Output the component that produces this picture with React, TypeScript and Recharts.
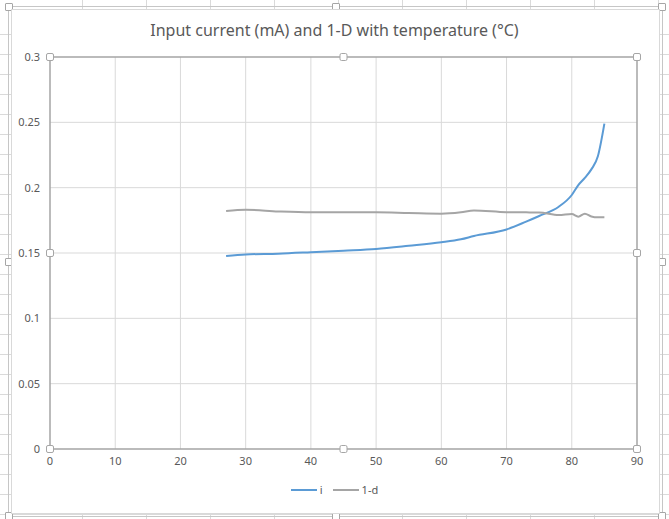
import { LineChart, Line, XAxis, YAxis, CartesianGrid, Legend, ReferenceArea, ReferenceDot } from 'recharts'

// temperature (°C)
const temps = [27, 30, 35, 40, 45, 50, 55, 60, 63, 65, 70, 73, 75, 78, 80, 81, 82, 83, 84, 85]
// input current i
const current = [
  0.1477, 0.1489, 0.1495, 0.1506, 0.1518, 0.1531, 0.1555, 0.1582, 0.1605, 0.163, 0.168, 0.174, 0.1783,
  0.1854, 0.1944, 0.202, 0.2075, 0.214, 0.224, 0.249,
]
// 1-d
const oneMinusD = [
  0.1821, 0.1831, 0.1818, 0.1811, 0.1811, 0.1811, 0.1806, 0.1801, 0.1812, 0.1826, 0.1812, 0.1811, 0.181,
  0.179, 0.1798, 0.1778, 0.1801, 0.178, 0.1773, 0.1773,
]

const xTicks = [0, 10, 20, 30, 40, 50, 60, 70, 80, 90]
const yTicks = [0, 0.05, 0.1, 0.15, 0.2, 0.25, 0.3]
const handleX = [0, 45, 90]
const handleY = [0, 0.15, 0.3]

const data = temps.map((t, k) => ({ t, i: current[k], d: oneMinusD[k] }))

const FONT = '"Noto Sans", "Open Sans", sans-serif'
const TEXT = '#595959'

const Handle = (props: any) => (
  <rect x={props.cx - 3.5} y={props.cy - 3.5} width={7} height={7} rx={1.5} fill="#fff" stroke="#a6a6a6" strokeWidth={1} />
)

const LegendContent = () => (
  <div style={{ display: 'flex', justifyContent: 'center', alignItems: 'center', fontSize: 11, color: TEXT }}>
    <span style={{ width: 26, height: 2, background: '#5b9bd5', marginRight: 3 }} />
    <span style={{ marginRight: 10 }}>i</span>
    <span style={{ width: 26, height: 2, background: '#a5a5a5', marginRight: 3 }} />
    <span>1-d</span>
  </div>
)

const frameHandles = [
  [0, 0], [50, 0], [100, 0], [0, 50], [100, 50], [0, 100], [50, 100], [100, 100],
]

export default function App() {
  return (
    <div
      style={{
        position: 'absolute',
        left: 0,
        top: 0,
        width: 669,
        height: 519,
        overflow: 'hidden',
        background: '#fff',
        backgroundImage:
          'repeating-linear-gradient(to right, transparent 0 63px, #dadada 63px 64px), repeating-linear-gradient(to bottom, transparent 0 19px, #dadada 19px 20px)',
        backgroundPosition: '19px 0, 0 15px',
        fontFamily: FONT,
      }}
    >
      {/* selection frame */}
      <div style={{ position: 'absolute', left: 8, top: 6, width: 653, height: 509, border: '1px solid #c6c6c6' }}>
        {frameHandles.map(([l, t], k) => (
          <div
            key={k}
            style={{
              position: 'absolute',
              left: `calc(${l}% - 4px)`,
              top: `calc(${t}% - 4px)`,
              width: 6,
              height: 6,
              borderRadius: 1,
              border: '1px solid #a6a6a6',
              background: '#fff',
            }}
          />
        ))}
      </div>
      {/* chart area */}
      <div style={{ position: 'absolute', left: 11, top: 9, width: 647, height: 503, border: '1px solid #d9d9d9', background: '#fff' }} />
      <div style={{ position: 'absolute', left: 0, top: 19, width: 669, textAlign: 'center', fontSize: 16, color: TEXT }}>
        Input current (mA) and 1-D with temperature (°C)
      </div>
      <div style={{ position: 'absolute', left: 0, top: 0 }}>
        <LineChart width={669} height={519} data={data} margin={{ top: 57, right: 32, bottom: 50, left: 10 }} style={{ fontFamily: FONT }}>
          <CartesianGrid stroke="#d9d9d9" vertical horizontal />
          <XAxis
            dataKey="t"
            type="number"
            domain={[0, 90]}
            ticks={xTicks}
            height={20}
            axisLine={false}
            tickLine={false}
            tick={{ fill: TEXT, fontSize: 11 }}
            tickMargin={2}
          />
          <YAxis
            type="number"
            domain={[0, 0.3]}
            ticks={yTicks}
            width={40}
            axisLine={false}
            tickLine={false}
            tick={{ fill: TEXT, fontSize: 11 }}
            tickMargin={4}
          />
          <ReferenceArea x1={0} x2={90} y1={0} y2={0.3} fill="none" fillOpacity={0} stroke="#8a8a8a" strokeWidth={1} />
          <Line type="monotone" dataKey="i" stroke="#5b9bd5" strokeWidth={2} dot={false} isAnimationActive={false} />
          <Line type="monotone" dataKey="d" stroke="#a5a5a5" strokeWidth={2} dot={false} isAnimationActive={false} />
          {handleX.flatMap((hx) =>
            handleY
              .filter((hy) => hx !== 45 || hy !== 0.15)
              .map((hy) => <ReferenceDot key={`${hx}-${hy}`} x={hx} y={hy} r={4} shape={Handle} />)
          )}
          <Legend verticalAlign="middle" content={LegendContent} wrapperStyle={{ top: 482, left: 0, width: 669 }} />
        </LineChart>
      </div>
    </div>
  )
}
